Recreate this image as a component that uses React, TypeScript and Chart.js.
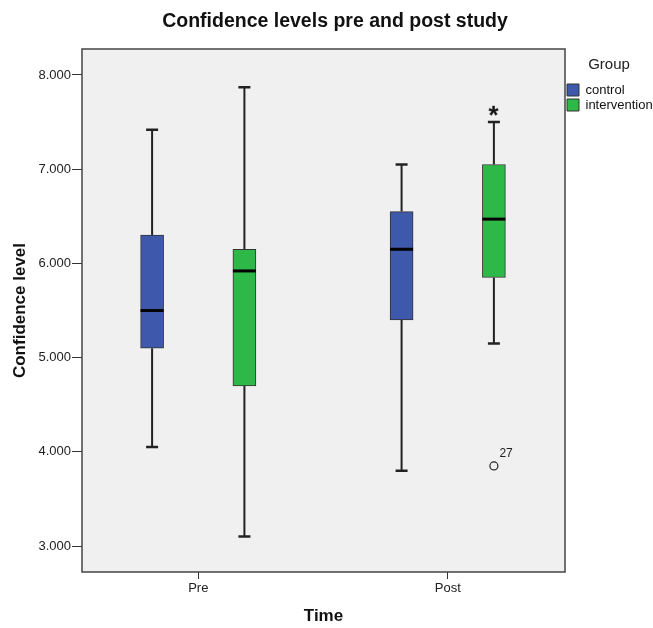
import React, { useEffect, useRef } from 'react';
import { Chart, registerables } from 'chart.js';

Chart.register(...registerables);

// ---------- data ----------
const CATEGORIES = ['Pre', 'Post'];
const GROUPS = ['control', 'intervention'];
const GROUP_COLORS = ['#3E58AC', '#2EB848'];

const CONTROL_MIN = [4.05, 3.8];
const CONTROL_Q1 = [5.1, 5.4];
const CONTROL_MEDIAN = [5.5, 6.15];
const CONTROL_Q3 = [6.3, 6.55];
const CONTROL_MAX = [7.42, 7.05];

const INTERVENTION_MIN = [3.1, 5.15];
const INTERVENTION_Q1 = [4.7, 5.85];
const INTERVENTION_MEDIAN = [5.92, 6.47];
const INTERVENTION_Q3 = [6.15, 7.05];
const INTERVENTION_MAX = [7.87, 7.5];

const OUTLIER_CATEGORY = ['Post'];
const OUTLIER_GROUP = ['intervention'];
const OUTLIER_VALUE = [3.85];
const OUTLIER_LABEL = ['27'];

const EXTREME_CATEGORY = ['Post'];
const EXTREME_GROUP = ['intervention'];
const EXTREME_VALUE = [7.62];

const Y_TICKS = [3, 4, 5, 6, 7, 8];
const Y_MIN = 2.724;
const Y_MAX = 8.276;

const TITLE = 'Confidence levels pre and post study';
const X_TITLE = 'Time';
const Y_TITLE = 'Confidence level';
const LEGEND_TITLE = 'Group';

// ---------- layout helpers ----------
const FONT = '"Liberation Sans", Arial, Helvetica, sans-serif';
const GROUP_OFFSET = 0.185;
const X_MIN = -0.466;
const X_MAX = 1.47;

const STATS = [
  { min: CONTROL_MIN, q1: CONTROL_Q1, med: CONTROL_MEDIAN, q3: CONTROL_Q3, max: CONTROL_MAX },
  { min: INTERVENTION_MIN, q1: INTERVENTION_Q1, med: INTERVENTION_MEDIAN, q3: INTERVENTION_Q3, max: INTERVENTION_MAX },
];

const xPos = (ci: number, gi: number) => ci + (gi === 0 ? -GROUP_OFFSET : GROUP_OFFSET);

function makeAsterisk(): HTMLCanvasElement {
  const size = 20;
  const c = document.createElement('canvas');
  c.width = size;
  c.height = size;
  const g = c.getContext('2d')!;
  g.font = `bold 26px ${FONT}`;
  g.fillStyle = '#111';
  g.textAlign = 'left';
  g.textBaseline = 'alphabetic';
  const m = g.measureText('*');
  const w = m.actualBoundingBoxLeft + m.actualBoundingBoxRight;
  const h = m.actualBoundingBoxAscent + m.actualBoundingBoxDescent;
  const x = (size - w) / 2 + m.actualBoundingBoxLeft;
  const y = (size - h) / 2 + m.actualBoundingBoxAscent;
  g.fillText('*', x, y);
  return c;
}

const framePlugin = {
  id: 'frame',
  beforeDraw(chart: any) {
    const { ctx, chartArea: a } = chart;
    ctx.save();
    ctx.fillStyle = '#ffffff';
    ctx.fillRect(0, 0, chart.width, chart.height);
    ctx.fillStyle = '#F0F0F0';
    ctx.fillRect(a.left, a.top, a.right - a.left, a.bottom - a.top);
    ctx.restore();
  },
  afterDraw(chart: any) {
    const { ctx, chartArea: a } = chart;
    ctx.save();
    ctx.strokeStyle = '#444';
    ctx.lineWidth = 1.5;
    ctx.strokeRect(a.left, a.top, a.right - a.left, a.bottom - a.top);
    ctx.restore();
  },
};

const boxPlugin = {
  id: 'boxWhiskers',
  beforeDatasetsDraw(chart: any) {
    const { ctx } = chart;
    const y = chart.scales.y;
    GROUPS.forEach((_g, gi) => {
      const meta = chart.getDatasetMeta(gi);
      const s = STATS[gi];
      meta.data.forEach((el: any, ci: number) => {
        const x = el.x;
        const yMin = y.getPixelForValue(s.min[ci]);
        const yMax = y.getPixelForValue(s.max[ci]);
        const yQ1 = y.getPixelForValue(s.q1[ci]);
        const yQ3 = y.getPixelForValue(s.q3[ci]);
        ctx.save();
        ctx.strokeStyle = '#222';
        ctx.lineWidth = 2;
        ctx.beginPath();
        ctx.moveTo(x, yQ3);
        ctx.lineTo(x, yMax);
        ctx.moveTo(x, yQ1);
        ctx.lineTo(x, yMin);
        ctx.stroke();
        ctx.lineWidth = 2.5;
        ctx.beginPath();
        ctx.moveTo(x - 6, yMax);
        ctx.lineTo(x + 6, yMax);
        ctx.moveTo(x - 6, yMin);
        ctx.lineTo(x + 6, yMin);
        ctx.stroke();
        ctx.restore();
      });
    });
  },
  afterDatasetsDraw(chart: any) {
    const { ctx } = chart;
    const y = chart.scales.y;
    GROUPS.forEach((_g, gi) => {
      const meta = chart.getDatasetMeta(gi);
      const s = STATS[gi];
      meta.data.forEach((el: any, ci: number) => {
        const x = el.x;
        const w = el.width;
        const yMed = y.getPixelForValue(s.med[ci]);
        ctx.save();
        ctx.strokeStyle = '#000';
        ctx.lineWidth = 3;
        ctx.beginPath();
        ctx.moveTo(x - w / 2, yMed);
        ctx.lineTo(x + w / 2, yMed);
        ctx.stroke();
        ctx.restore();
      });
    });
    // outlier case labels
    const outMeta = chart.getDatasetMeta(GROUPS.length);
    ctx.save();
    ctx.font = `12px ${FONT}`;
    ctx.fillStyle = '#222';
    ctx.textAlign = 'left';
    ctx.textBaseline = 'middle';
    outMeta.data.forEach((el: any, i: number) => {
      ctx.fillText(OUTLIER_LABEL[i], el.x + 5.5, el.y - 12);
    });
    ctx.restore();
  },
};

export default function App() {
  const ref = useRef<HTMLCanvasElement | null>(null);

  useEffect(() => {
    if (!ref.current) return;
    const star = makeAsterisk();

    const barSets = GROUPS.map((g, gi) => ({
      type: 'bar' as const,
      label: g,
      backgroundColor: GROUP_COLORS[gi],
      borderColor: '#333',
      borderWidth: 1,
      borderSkipped: false,
      barThickness: 23,
      grouped: false,
      data: CATEGORIES.map((_c, ci) => ({ x: xPos(ci, gi), y: [STATS[gi].q1[ci], STATS[gi].q3[ci]] })),
    }));

    const outlierSet = {
      type: 'scatter' as const,
      label: '',
      data: OUTLIER_VALUE.map((v, i) => ({
        x: xPos(CATEGORIES.indexOf(OUTLIER_CATEGORY[i]), GROUPS.indexOf(OUTLIER_GROUP[i])),
        y: v,
      })),
      pointStyle: 'circle',
      pointRadius: 4,
      pointBorderWidth: 1.2,
      borderColor: '#222',
      backgroundColor: 'rgba(0,0,0,0)',
    };

    const extremeSet = {
      type: 'scatter' as const,
      label: '',
      data: EXTREME_VALUE.map((v, i) => ({
        x: xPos(CATEGORIES.indexOf(EXTREME_CATEGORY[i]), GROUPS.indexOf(EXTREME_GROUP[i])),
        y: v,
      })),
      pointStyle: star,
      pointRadius: 6,
    };

    const chart = new Chart(ref.current, {
      type: 'bar',
      data: { datasets: [...barSets, outlierSet, extremeSet] as any },
      plugins: [framePlugin, boxPlugin],
      options: {
        responsive: false,
        animation: false,
        events: [],
        layout: { padding: { left: 17, right: 0, top: 0, bottom: 0 } },
        plugins: {
          tooltip: { enabled: false },
          title: {
            display: true,
            text: TITLE,
            color: '#111',
            font: { family: FONT, size: 19.5, weight: 'bold' },
            padding: { top: 10, bottom: 15.6 },
          },
          legend: {
            display: true,
            position: 'right',
            align: 'start',
            fullSize: false,
            maxWidth: 88,
            title: {
              display: true,
              text: LEGEND_TITLE,
              position: 'center',
              color: '#222',
              font: { family: FONT, size: 15 },
              padding: { top: 8.5, bottom: 6 },
            },
            labels: {
              boxWidth: 12,
              boxHeight: 12,
              padding: 2,
              color: '#111',
              font: { family: FONT, size: 13 },
              filter: (item: any) => item.datasetIndex < GROUPS.length,
            },
          },
        },
        scales: {
          x: {
            type: 'linear',
            min: X_MIN,
            max: X_MAX,
            offset: false,
            afterFit: (s: any) => { s.height = 56; },
            afterBuildTicks: (s: any) => { s.ticks = CATEGORIES.map((_c, i) => ({ value: i })); },
            ticks: {
              autoSkip: false,
              maxRotation: 0,
              padding: 2,
              color: '#222',
              font: { family: FONT, size: 13 },
              callback: (v: any) => CATEGORIES[Math.round(Number(v))] ?? '',
            },
            grid: { display: true, drawOnChartArea: false, drawTicks: true, tickLength: 7, color: '#333', lineWidth: 1, offset: false },
            border: { display: false },
            title: {
              display: true,
              text: X_TITLE,
              color: '#111',
              font: { family: FONT, size: 17, weight: 'bold' },
              padding: { top: 0, bottom: 1.8 },
            },
          },
          y: {
            type: 'linear',
            min: Y_MIN,
            max: Y_MAX,
            afterFit: (s: any) => { s.width = 65; },
            afterBuildTicks: (s: any) => { s.ticks = Y_TICKS.map((v) => ({ value: v })); },
            ticks: {
              padding: 1,
              color: '#222',
              font: { family: FONT, size: 13 },
              callback: (v: any) => Number(v).toFixed(3),
            },
            grid: { display: true, drawOnChartArea: false, drawTicks: true, tickLength: 10, color: '#333', lineWidth: 1 },
            border: { display: false },
            title: {
              display: true,
              text: Y_TITLE,
              color: '#111',
              font: { family: FONT, size: 17, weight: 'bold' },
              padding: { top: -7.2, bottom: 0 },
            },
          },
        },
      } as any,
    });

    return () => chart.destroy();
  }, []);

  return (
    <div style={{ position: 'fixed', left: 0, top: 0, width: 653, height: 628, background: '#fff' }}>
      <canvas ref={ref} width={653} height={628} style={{ display: 'block', width: 653, height: 628 }} />
    </div>
  );
}
